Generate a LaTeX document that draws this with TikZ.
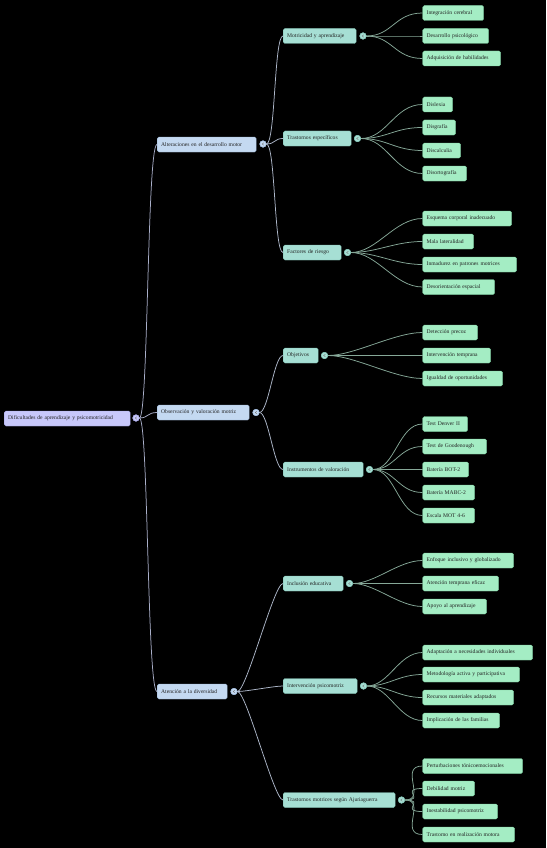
\documentclass[tikz,border=0pt]{standalone}
\usepackage{fontspec}
\setmainfont{Liberation Serif}
\definecolor{bgc}{HTML}{000000}
\definecolor{rootf}{HTML}{C8C8FA}
\definecolor{rootd}{HTML}{9E9EE0}
\definecolor{l1f}{HTML}{C4D9F1}
\definecolor{l1d}{HTML}{98B2D4}
\definecolor{l2f}{HTML}{A6DFD4}
\definecolor{l2d}{HTML}{7CBCAE}
\definecolor{lff}{HTML}{A4EDC4}
\definecolor{lfd}{HTML}{78CC9C}
\definecolor{txt}{HTML}{222222}
\definecolor{ln0}{HTML}{A9AFC9}
\definecolor{ln1}{HTML}{AEB8CA}
\definecolor{ln2}{HTML}{86A898}
\newcommand\bx[6]{\pgfmathsetmacro\tw{#5-8}\node[#2, minimum width=#5pt, text width=\tw pt] (#1) at (#3,#4) {#6};}
\tikzset{
  box/.style={rectangle, rounded corners=1.6pt, anchor=west, minimum height=15pt, inner xsep=4pt, inner ysep=0pt, align=left, text=txt, font=\fontsize{5.6}{6.5}\selectfont, line width=0.4pt},
  rootbox/.style={box, fill=rootf, draw=rootd},
  l1box/.style={box, fill=l1f, draw=l1d},
  l2box/.style={box, fill=l2f, draw=l2d},
  leafbox/.style={box, fill=lff, draw=lfd},
  dot/.style={circle, inner sep=0pt, minimum size=6.5pt, line width=0.4pt},
  dot0/.style={dot, fill=rootf, draw=rootd},
  dot1/.style={dot, fill=l1f, draw=l1d},
  dot2/.style={dot, fill=l2f, draw=l2d},
  c0/.style={draw=ln0, line width=0.75pt},
  c1/.style={draw=ln1, line width=0.75pt},
  c2/.style={draw=ln2, line width=0.75pt},
}
\begin{document}
\begin{tikzpicture}[x=1pt,y=-1pt]
\fill[bgc] (0,0) rectangle (546,848);
\useasboundingbox (0,0) rectangle (546,848);
% root
\bx{r}{rootbox}{4}{418.5}{126}{Dificultades de aprendizaje y psicomotricidad}
\node[dot0] (rc) at (136,418) {};
% level 1
\bx{a1}{l1box}{157}{144.5}{99}{Alteraciones en el desarrollo motor}
\bx{a2}{l1box}{157}{412.5}{92}{Observación y valoración motriz}
\bx{a3}{l1box}{157}{691.5}{70}{Atención a la diversidad}
\node[dot1] (a1c) at (263,144) {};
\node[dot1] (a2c) at (256,412.5) {};
\node[dot1] (a3c) at (234,691.5) {};
% level 2
\bx{b1}{l2box}{283}{36}{73}{Motricidad y aprendizaje}
\bx{b2}{l2box}{283}{138.5}{68}{Trastornos específicos}
\bx{b3}{l2box}{283}{252.5}{58}{Factores de riesgo}
\bx{b4}{l2box}{283}{355.5}{35}{Objetivos}
\bx{b5}{l2box}{283}{469.5}{80}{Instrumentos de valoración}
\bx{b6}{l2box}{283}{583.5}{60}{Inclusión educativa}
\bx{b7}{l2box}{283}{686}{74}{Intervención psicomotriz}
\bx{b8}{l2box}{283}{800}{112}{Trastornos motrices según Ajuriaguerra}
\node[dot2] (b1c) at (363,36) {};
\node[dot2] (b2c) at (357.5,138.5) {};
\node[dot2] (b3c) at (347.5,252.5) {};
\node[dot2] (b4c) at (324.5,355.5) {};
\node[dot2] (b5c) at (369.5,469.5) {};
\node[dot2] (b6c) at (349.5,583.5) {};
\node[dot2] (b7c) at (363.5,686) {};
\node[dot2] (b8c) at (401.5,800) {};
% leaves
\bx{d11}{leafbox}{422.5}{13}{61}{Integración cerebral}
\bx{d12}{leafbox}{422.5}{36}{66}{Desarrollo psicológico}
\bx{d13}{leafbox}{422.5}{58.5}{78}{Adquisición de habilidades}
\bx{d21}{leafbox}{422.5}{104.5}{30}{Dislexia}
\bx{d22}{leafbox}{422.5}{127.5}{33}{Disgrafía}
\bx{d23}{leafbox}{422.5}{150.5}{38}{Discalculia}
\bx{d24}{leafbox}{422.5}{173.5}{44}{Disortografía}
\bx{d31}{leafbox}{422.5}{218.5}{89}{Esquema corporal inadecuado}
\bx{d32}{leafbox}{422.5}{241.5}{51}{Mala lateralidad}
\bx{d33}{leafbox}{422.5}{264.5}{94}{Inmadurez en patrones motrices}
\bx{d34}{leafbox}{422.5}{287}{72}{Desorientación espacial}
\bx{d41}{leafbox}{422.5}{332.5}{55}{Detección precoz}
\bx{d42}{leafbox}{422.5}{355.5}{68}{Intervención temprana}
\bx{d43}{leafbox}{422.5}{378.5}{80}{Igualdad de oportunidades}
\bx{d51}{leafbox}{422.5}{424}{45}{Test Denver II}
\bx{d52}{leafbox}{422.5}{446.5}{64}{Test de Goodenough}
\bx{d53}{leafbox}{422.5}{469.5}{46}{Batería BOT-2}
\bx{d54}{leafbox}{422.5}{492.5}{52}{Batería MABC-2}
\bx{d55}{leafbox}{422.5}{515.5}{52}{Escala MOT 4-6}
\bx{d61}{leafbox}{422.5}{560.5}{91}{Enfoque inclusivo y globalizado}
\bx{d62}{leafbox}{422.5}{583.5}{76}{Atención temprana eficaz}
\bx{d63}{leafbox}{422.5}{606.5}{64}{Apoyo al aprendizaje}
\bx{d71}{leafbox}{422.5}{652.5}{110}{Adaptación a necesidades individuales}
\bx{d72}{leafbox}{422.5}{674.5}{97}{Metodología activa y participativa}
\bx{d73}{leafbox}{422.5}{697.5}{91}{Recursos materiales adaptados}
\bx{d74}{leafbox}{422.5}{720.5}{77}{Implicación de las familias}
\bx{d81}{leafbox}{422.5}{766}{100}{Perturbaciones tónicoemocionales}
\bx{d82}{leafbox}{422.5}{788.5}{52}{Debilidad motriz}
\bx{d83}{leafbox}{422.5}{811.5}{75}{Inestabilidad psicomotriz}
\bx{d84}{leafbox}{422.5}{834.5}{92}{Trastorno en realización motora}
% connectors root -> level 1
\foreach \t in {a1,a2,a3}{
  \draw[c0] (rc.east) .. controls +(9,0) and +(-10,0) .. (\t.west);
}
% level 1 -> level 2
\foreach \s/\t in {a1c/b1,a1c/b2,a1c/b3,a2c/b4,a2c/b5,a3c/b6,a3c/b7,a3c/b8}{
  \draw[c1] (\s.east) .. controls +(9,0) and +(-9,0) .. (\t.west);
}
% level 2 -> leaves
\foreach \s/\t in {b1c/d11,b1c/d12,b1c/d13,b2c/d21,b2c/d22,b2c/d23,b2c/d24,b3c/d31,b3c/d32,b3c/d33,b3c/d34,b4c/d41,b4c/d42,b4c/d43}{
  \draw[c2] (\s.east) .. controls +(26,0) and +(-28,0) .. (\t.west);
}
\foreach \s/\t in {b5c/d51,b5c/d52,b5c/d53,b5c/d54,b5c/d55,b6c/d61,b6c/d62,b6c/d63,b7c/d71,b7c/d72,b7c/d73,b7c/d74,b8c/d81,b8c/d82,b8c/d83,b8c/d84}{
  \draw[c2] (\s.east) .. controls +(22,0) and +(-24,0) .. (\t.west);
}
% redraw dots on top
\foreach \d/\s in {rc/dot0,a1c/dot1,a2c/dot1,a3c/dot1,b1c/dot2,b2c/dot2,b3c/dot2,b4c/dot2,b5c/dot2,b6c/dot2,b7c/dot2,b8c/dot2}{
  \node[\s] at (\d) {};
  \draw[black!55, line width=0.35pt] ([shift={(0.9,-1.3)}]\d.center) -- ([shift={(-0.9,0)}]\d.center) -- ([shift={(0.9,1.3)}]\d.center);
}
\end{tikzpicture}
\end{document}
